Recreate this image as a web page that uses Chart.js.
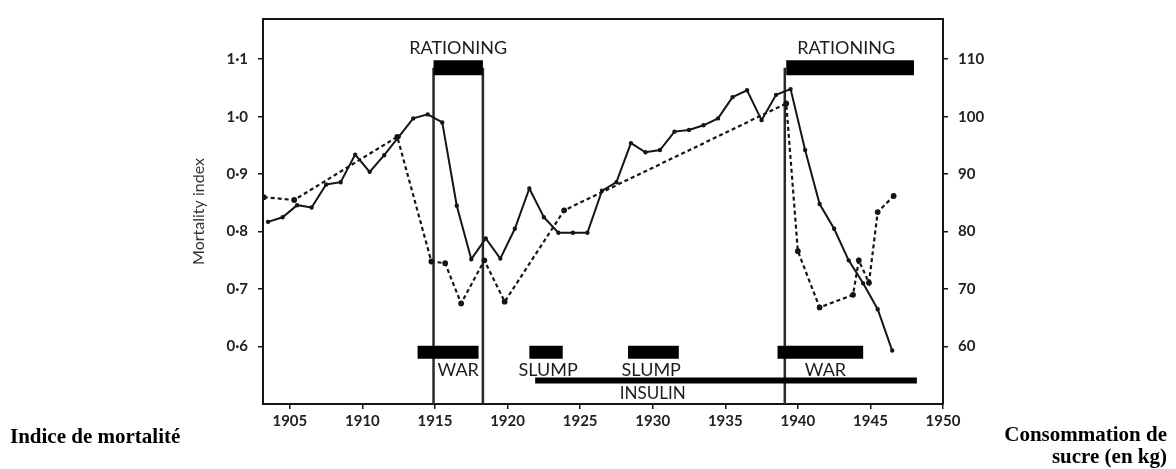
<!DOCTYPE html>
<html>
<head>
<meta charset="utf-8">
<script src="https://cdn.jsdelivr.net/npm/chart.js@4.4.0/dist/chart.umd.min.js"></script>
<style>
  body { margin: 0; background: #fff; }
  #wrap { position: relative; width: 1176px; height: 469px; }
  #wrap canvas { position: absolute; left: 0; top: 0; }
  .side-title {
    position: absolute;
    font-family: "Liberation Serif", serif;
    font-weight: bold;
    font-size: 21px;
    line-height: 22px;
    color: #000;
  }
  #leftTitle { left: 10px; top: 425px; }
  #rightTitle { right: 9px; top: 423px; text-align: right; }
</style>
</head>
<body>
<div id="wrap">
  <canvas id="sugarChart" width="1176" height="469"></canvas>
  <div class="side-title" id="leftTitle">Indice de mortalité</div>
  <div class="side-title" id="rightTitle">Consommation de<br>sucre (en kg)</div>
</div>
<script>
// mortality index (solid line), one value per year, plotted mid-year
const mortalityYears = [1903, 1904, 1905, 1906, 1907, 1908, 1909, 1910, 1911, 1912,
  1913, 1914, 1915, 1916, 1917, 1918, 1919, 1920, 1921, 1922,
  1923, 1924, 1925, 1926, 1927, 1928, 1929, 1930, 1931, 1932,
  1933, 1934, 1935, 1936, 1937, 1938, 1939, 1940, 1941, 1942,
  1943, 1944, 1945, 1946];
const mortalityIndex = [0.817, 0.825, 0.846, 0.842, 0.882, 0.886, 0.934, 0.904, 0.933, 0.965,
  0.997, 1.004, 0.990, 0.845, 0.752, 0.788, 0.753, 0.805, 0.875, 0.825,
  0.798, 0.798, 0.798, 0.871, 0.886, 0.954, 0.938, 0.942, 0.974, 0.977,
  0.985, 0.997, 1.034, 1.046, 0.994, 1.038, 1.048, 0.942, 0.848, 0.805,
  0.750, 0.710, 0.665, 0.593];

// sugar consumption (dashed line), kg per head
const sugarYears = [1903.2, 1905.3, 1912.4, 1914.75, 1915.7, 1916.8, 1918.4, 1919.8, 1923.9,
  1939.2, 1940.0, 1941.5, 1943.8, 1944.2, 1944.9, 1945.5, 1946.6];
const sugarConsumption = [86.0, 85.5, 96.5, 74.8, 74.5, 67.5, 75.0, 67.8, 83.7,
  102.3, 76.6, 66.8, 69.0, 75.0, 71.1, 83.4, 86.2];

// periods marked under the curves
const periodNames = ['WAR', 'SLUMP', 'SLUMP', 'WAR'];
const periodStart = [1913.8, 1921.5, 1928.3, 1938.6];
const periodEnd = [1918.0, 1923.8, 1931.8, 1944.5];
const periodLabelAt = [1916.6, 1922.8, 1929.9, 1941.9];

const insulinStart = 1921.9;
const insulinEnd = 1948.2;
const insulinLabelAt = 1930.0;

const rationingStart = [1914.9, 1939.2];
const rationingEnd = [1918.3, 1948.0];
const rationingLines = [1914.9, 1918.3, 1939.1];

const yearTicks = [1905, 1910, 1915, 1920, 1925, 1930, 1935, 1940, 1945, 1950];
const mortalityTicks = [0.6, 0.7, 0.8, 0.9, 1.0, 1.1];
const sugarTicks = [60, 70, 80, 90, 100, 110];

const INK = '#151515';
const FONT = 'Lato, "Open Sans", sans-serif';

const datasets = [];

datasets.push({
  label: 'Mortality index',
  data: mortalityYears.map((yr, i) => ({ x: yr + 0.5, y: mortalityIndex[i] })),
  yAxisID: 'y',
  borderColor: INK,
  backgroundColor: INK,
  borderWidth: 2,
  pointRadius: 1.2,
  tension: 0
});

datasets.push({
  label: 'Sugar consumption',
  data: sugarYears.map((yr, i) => ({ x: yr, y: sugarConsumption[i] })),
  yAxisID: 'y2',
  borderColor: INK,
  backgroundColor: INK,
  borderWidth: 2.2,
  borderDash: [4, 3],
  pointRadius: 1.8,
  tension: 0
});

periodNames.forEach((name, i) => {
  datasets.push({
    label: name,
    data: [{ x: periodStart[i], y: 0.5902 }, { x: periodEnd[i], y: 0.5902 }],
    yAxisID: 'y',
    borderColor: '#000',
    borderWidth: 13,
    borderCapStyle: 'butt',
    pointRadius: 0
  });
});

datasets.push({
  label: 'INSULIN',
  data: [{ x: insulinStart, y: 0.541 }, { x: insulinEnd, y: 0.541 }],
  yAxisID: 'y',
  borderColor: '#000',
  borderWidth: 6,
  borderCapStyle: 'butt',
  pointRadius: 0
});

rationingStart.forEach((start, i) => {
  datasets.push({
    label: 'RATIONING',
    data: [{ x: start, y: 1.085 }, { x: rationingEnd[i], y: 1.085 }],
    yAxisID: 'y',
    borderColor: '#000',
    borderWidth: 15,
    borderCapStyle: 'butt',
    pointRadius: 0
  });
});

rationingLines.forEach(yr => {
  datasets.push({
    label: 'rationing edge',
    data: [{ x: yr, y: 1.085 }, { x: yr, y: 0.5 }],
    yAxisID: 'y',
    borderColor: '#2a2a2a',
    borderWidth: 2.5,
    pointRadius: 0
  });
});

// labels for the marked periods + top frame line
const annotationText = {
  id: 'annotationText',
  afterDatasetsDraw(chart) {
    const { ctx, chartArea, scales } = chart;
    const x = scales.x, y = scales.y;
    ctx.save();
    ctx.strokeStyle = INK;
    ctx.lineWidth = 2;
    ctx.beginPath();
    ctx.moveTo(chartArea.left - 1, chartArea.top);
    ctx.lineTo(chartArea.right + 1, chartArea.top);
    ctx.stroke();

    ctx.fillStyle = '#1c1c1c';
    ctx.textAlign = 'center';
    ctx.textBaseline = 'middle';
    ctx.font = '18px ' + FONT;
    rationingStart.forEach((s, i) => {
      const mid = (s + rationingEnd[i]) / 2;
      ctx.fillText('RATIONING', x.getPixelForValue(mid) - (i ? 4 : 0), y.getPixelForValue(1.12));
    });
    periodNames.forEach((name, i) => {
      ctx.fillText(name, x.getPixelForValue(periodLabelAt[i]), y.getPixelForValue(0.559));
    });
    ctx.font = '17px ' + FONT;
    ctx.textBaseline = 'alphabetic';
    ctx.fillText('INSULIN', x.getPixelForValue(insulinLabelAt), y.getPixelForValue(0.5085));
    ctx.restore();
  }
};

const tickFont = { family: FONT, size: 15, weight: 'bold' };

new Chart(document.getElementById('sugarChart').getContext('2d'), {
  type: 'line',
  data: { datasets: datasets },
  options: {
    responsive: false,
    animation: false,
    layout: { padding: { left: 185, right: 173, top: 14, bottom: 35 } },
    plugins: {
      legend: { display: false },
      tooltip: { enabled: false }
    },
    scales: {
      x: {
        type: 'linear',
        min: 1903.15,
        max: 1950,
        afterBuildTicks: (scale) => { scale.ticks = yearTicks.map(v => ({ value: v })); },
        afterFit: (scale) => { scale.height = 30; },
        ticks: { font: tickFont, color: '#222', padding: 3, maxRotation: 0, callback: (v) => String(v) },
        grid: { drawOnChartArea: false, tickLength: 5, color: INK, lineWidth: 1.5 },
        border: { color: INK, width: 2 }
      },
      y: {
        position: 'left',
        min: 0.5,
        max: 1.17,
        afterBuildTicks: (scale) => { scale.ticks = mortalityTicks.map(v => ({ value: v })); },
        afterFit: (scale) => { scale.width = 78; },
        ticks: { font: tickFont, color: '#222', padding: 10, callback: (v) => v.toFixed(1).replace('.', '·') },
        grid: { drawOnChartArea: false, tickLength: 5, color: INK, lineWidth: 1.5 },
        border: { color: INK, width: 2 },
        title: { display: true, text: 'Mortality index', font: { family: FONT, size: 16 }, color: '#333' }
      },
      y2: {
        position: 'right',
        min: 50,
        max: 117,
        afterBuildTicks: (scale) => { scale.ticks = sugarTicks.map(v => ({ value: v })); },
        afterFit: (scale) => { scale.width = 60; },
        ticks: { font: tickFont, color: '#222', padding: 10, callback: (v) => String(v) },
        grid: { drawOnChartArea: false, tickLength: 5, color: INK, lineWidth: 1.5 },
        border: { color: INK, width: 2 }
      }
    }
  },
  plugins: [annotationText]
});
</script>
</body>
</html>
